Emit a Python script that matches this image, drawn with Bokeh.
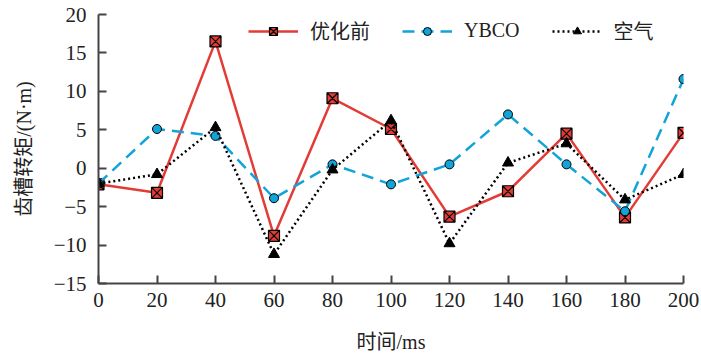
from bokeh.plotting import figure
from bokeh.models import FixedTicker, Legend, LegendItem
from bokeh.embed import file_html
from bokeh.resources import INLINE

time_ms = [0, 20, 40, 60, 80, 100, 120, 140, 160, 180, 200]
before_opt = [-2.1, -3.2, 16.5, -8.8, 9.1, 5.1, -6.3, -3.0, 4.5, -6.4, 4.6]
ybco = [-2.0, 5.1, 4.2, -3.9, 0.5, -2.1, 0.5, 7.0, 0.5, -5.6, 11.6]
air = [-2.0, -0.8, 5.3, -11.2, -0.2, 6.2, -9.8, 0.7, 3.2, -4.1, -0.8]
x_ticks = [0, 20, 40, 60, 80, 100, 120, 140, 160, 180, 200]
y_ticks = [-15, -10, -5, 0, 5, 10, 15, 20]

FONT = "'Liberation Serif', 'Noto Sans CJK SC'"
RED = "#e33b36"
BLUE = "#12a3d8"

p = figure(width=700, height=355, x_range=(0, 200), y_range=(-15, 20),
           output_backend="svg", toolbar_location=None,
           min_border_left=98, min_border_right=17, min_border_top=14, min_border_bottom=72)
p.outline_line_color = None
p.xgrid.visible = False
p.ygrid.visible = False

r1l = p.line(time_ms, before_opt, line_color=RED, line_width=2.5)
r1m = p.scatter(time_ms, before_opt, marker="square_x", size=11, fill_color=RED,
                line_color="black", line_width=1.2)
r2l = p.line(time_ms, ybco, line_color=BLUE, line_width=2.5, line_dash="12 7")
r2m = p.scatter(time_ms, ybco, marker="circle", size=9, fill_color=BLUE,
                line_color="black", line_width=1)
r3l = p.line(time_ms, air, line_color="black", line_width=2.5, line_dash="2 3")
r3m = p.scatter(time_ms, air, marker="triangle", size=11, fill_color="black",
                line_color="black")

for ax in (p.xaxis[0], p.yaxis[0]):
    ax.axis_line_width = 2
    ax.axis_line_color = "#444444"
    ax.major_tick_line_color = "#444444"
    ax.major_tick_line_width = 2
    ax.major_tick_in = 8
    ax.major_tick_out = 0
    ax.minor_tick_line_color = None
    ax.major_label_text_font = FONT
    ax.major_label_text_font_size = "21px"
    ax.major_label_text_color = "#222222"
    ax.axis_label_text_font = FONT
    ax.axis_label_text_font_size = "20px"
    ax.axis_label_text_font_style = "normal"
    ax.axis_label_text_color = "#222222"

p.xaxis.ticker = FixedTicker(ticks=x_ticks)
p.yaxis.ticker = FixedTicker(ticks=y_ticks)
p.yaxis.major_label_overrides = {t: ("\u2212" + str(-t) if t < 0 else str(t)) for t in y_ticks}
p.xaxis.axis_label = "时间/ms"
p.yaxis.axis_label = "齿槽转矩/(N·m)"
p.xaxis.major_label_standoff = 9
p.xaxis.axis_label_standoff = 21
p.yaxis.major_label_standoff = 12
p.yaxis.axis_label_standoff = 16

legend = Legend(items=[
    LegendItem(label="优化前", renderers=[r1l, r1m]),
    LegendItem(label="YBCO", renderers=[r2l, r2m]),
    LegendItem(label="空气", renderers=[r3l, r3m]),
], orientation="horizontal", location=(150, 238))
legend.border_line_color = None
legend.background_fill_alpha = 0
legend.label_text_font = FONT
legend.label_text_font_size = "20px"
legend.label_text_color = "#222222"
legend.glyph_width = 50
legend.label_standoff = 12
legend.spacing = 32
legend.padding = 4
p.add_layout(legend)

open("out.html", "w").write(file_html(p, INLINE))
